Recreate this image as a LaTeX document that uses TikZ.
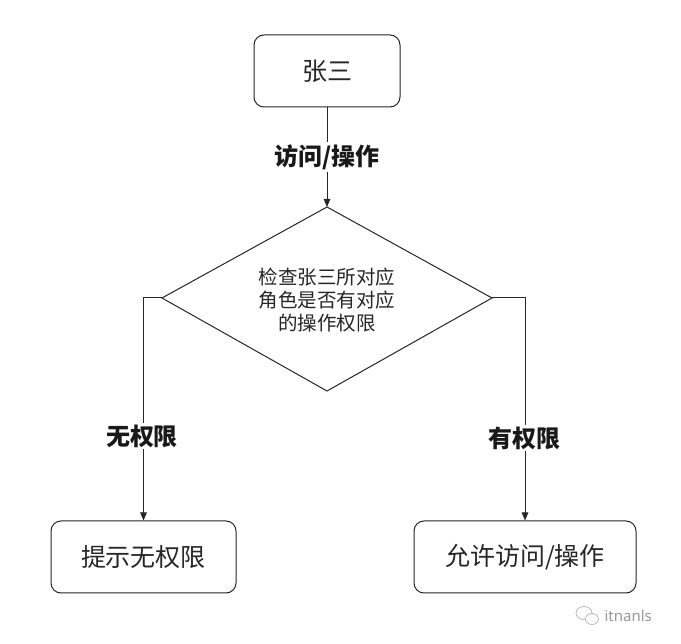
\documentclass[tikz,border=0pt]{standalone}
\usepackage{fontspec}
\newfontfamily\cjk{Noto Sans CJK SC}
\setsansfont{Noto Sans}
\usetikzlibrary{arrows.meta,shapes.geometric}
\begin{document}
\begin{tikzpicture}[x=1pt,y=-1pt,
  line/.style={draw=black!85,line width=1pt},
  arr/.style={line,-{Triangle[length=8pt,width=6.5pt]}},
  box/.style={draw=black!85,line width=1pt,rounded corners=10pt,inner sep=0pt,font=\cjk\fontsize{25}{30}\selectfont,text=black!85},
  lbl/.style={fill=white,inner sep=2pt,font=\cjk\bfseries\fontsize{24}{28}\selectfont,text=black!90}]
\useasboundingbox (0,0) rectangle (681,644);
\fill[white] (0,0) rectangle (681,644);
% nodes
\node[box,minimum width=146pt,minimum height=72pt] (zs) at (327,71) {张三};
\node[box,minimum width=185pt,minimum height=72pt] (no) at (143.5,557) {提示无权限};
\node[box,minimum width=222pt,minimum height=72pt] (yes) at (525,557) {允许访问/操作};
\coordinate (dt) at (327,207);
\coordinate (dl) at (162,298);
\coordinate (dr) at (492,298);
\coordinate (db) at (327,391);
\draw[line] (dt) -- (dr) -- (db) -- (dl) -- cycle;
\node[align=center,font=\cjk\fontsize{19.5}{23}\selectfont,text=black!85] (dtext) at (327,300) {检查张三所对应\\角色是否有对应\\的操作权限};
% connectors
\draw[arr] (zs.south) -- (dt);
\node[lbl] (l1) at (327,157) {访问/操作};
\draw[arr] (dl) -| (no.north);
\node[lbl] (l2) at (142,436) {无权限};
\draw[arr] (dr) -| (yes.north);
\node[lbl] (l3) at (524,438) {有权限};
% watermark
\node[font=\sffamily\fontsize{15}{18}\selectfont,text=black!40,anchor=west] (wm) at (601,616) {itnanls};
\draw[black!30,line width=0.7pt] (584,613) ellipse (8pt and 6.5pt);
\draw[black!30,line width=0.7pt,fill=white] (592,619) ellipse (6.5pt and 5.5pt);
\end{tikzpicture}
\end{document}
